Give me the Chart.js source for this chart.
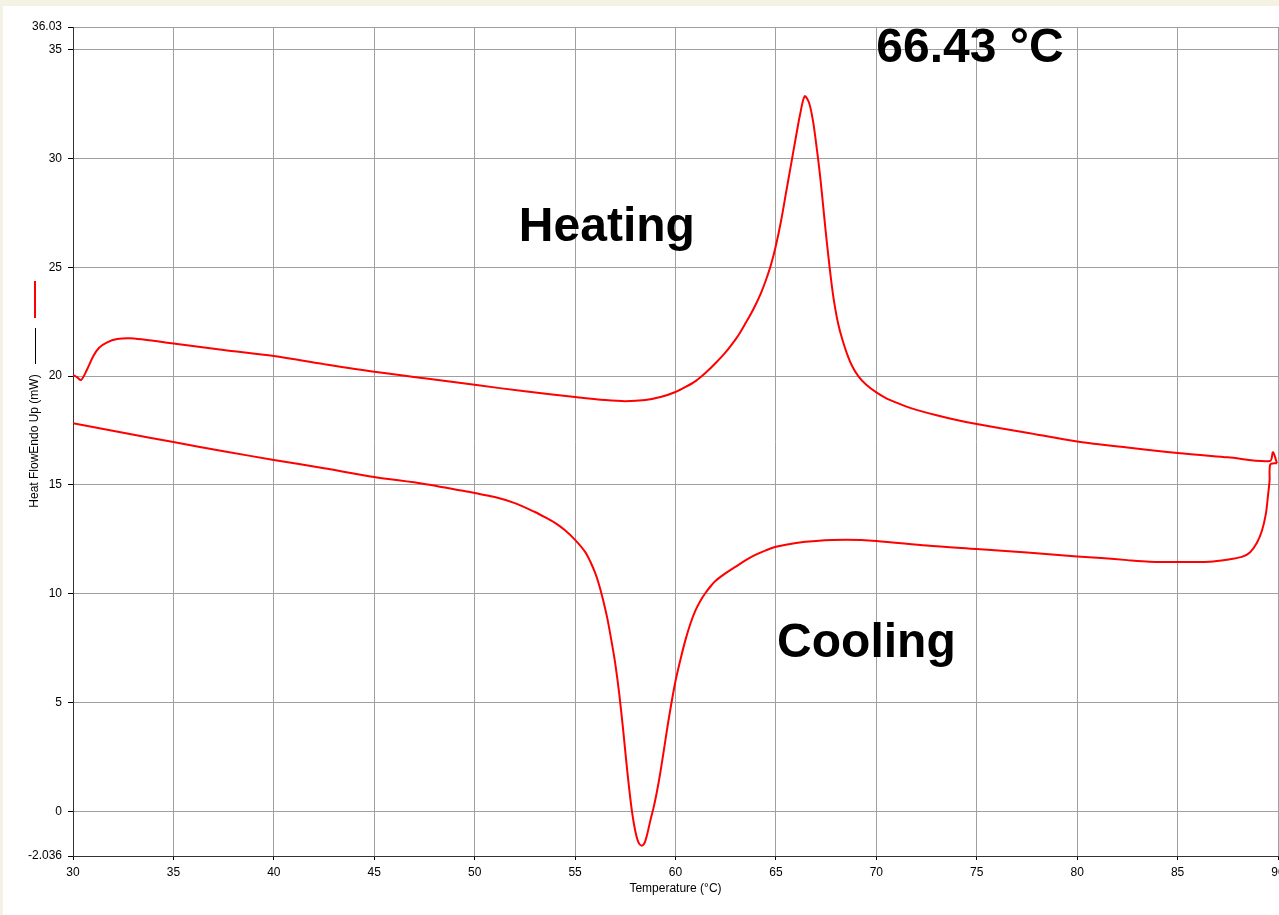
<!DOCTYPE html>
<html>
<head>
<meta charset="utf-8">
<script src="https://cdn.jsdelivr.net/npm/chart.js@4/dist/chart.umd.min.js"></script>
<style>
html,body{margin:0;padding:0;background:#F4F2E2;}
canvas{display:block;}
</style>
</head>
<body>
<canvas id="c" width="1279" height="915"></canvas>
<script>
// Heating scan (temperature °C, heat flow mW)
const heatT  = [30.0,30.2,30.4,30.7,31.0,31.3,31.7,32.2,32.8,33.5,35,37.5,40,42.5,45,47.5,50,52.5,55,56.5,57.5,58.5,59.3,60,60.5,61,61.5,62,62.5,63,63.25,63.5,63.75,64,64.25,64.5,64.75,65,65.25,65.5,65.75,66,66.2,66.43,66.65,66.85,67,67.15,67.3,67.45,67.6,67.75,67.9,68.1,68.3,68.55,68.8,69.1,69.5,70,70.5,71,71.5,72,73,74,75,77.5,80,82.5,85,87.5,89.6,89.75,89.95];
const heatHF = [20.05,19.95,19.82,20.3,20.9,21.3,21.55,21.7,21.74,21.68,21.5,21.2,20.92,20.55,20.2,19.9,19.6,19.3,19.04,18.9,18.85,18.9,19.05,19.27,19.5,19.77,20.15,20.6,21.1,21.7,22.05,22.45,22.85,23.3,23.8,24.4,25.1,26.0,27.1,28.4,29.7,31.0,32.0,32.85,32.55,31.7,30.7,29.6,28.3,26.9,25.6,24.4,23.4,22.4,21.7,21.0,20.45,20.0,19.6,19.25,18.98,18.78,18.6,18.45,18.2,17.98,17.8,17.4,17.0,16.72,16.47,16.27,16.1,16.5,16.0];
// Cooling scan
const coolT  = [89.95,89.62,89.58,89.5,89.4,89.2,88.95,88.6,88.2,87.45,86.6,85.1,83.6,82.5,81.2,80,77.5,75,72.5,70,68.5,67,66,65,64.5,64,63.5,63,62.5,62,61.75,61.5,61.25,61,60.75,60.5,60.25,60,59.8,59.6,59.4,59.2,59.05,58.9,58.75,58.6,58.45,58.3,58.15,58.0,57.85,57.7,57.55,57.4,57.2,57.0,56.8,56.6,56.4,56.2,56.0,55.75,55.5,55,54.5,54,53.5,53,52,51,50,47.5,45,42.5,40,37.5,35,32.5,30];
const coolHF = [16.0,15.95,15.2,14.5,13.7,12.9,12.35,11.9,11.7,11.57,11.48,11.46,11.48,11.55,11.65,11.72,11.9,12.06,12.22,12.43,12.48,12.43,12.34,12.16,12.0,11.8,11.55,11.25,10.95,10.6,10.35,10.05,9.7,9.25,8.65,7.9,7.0,6.0,5.0,3.9,2.7,1.55,0.8,0.15,-0.4,-1.0,-1.45,-1.56,-1.4,-0.9,-0.1,1.0,2.3,3.7,5.4,6.8,7.9,8.9,9.7,10.4,10.96,11.5,11.93,12.48,12.92,13.26,13.52,13.76,14.17,14.45,14.63,15.05,15.37,15.77,16.15,16.55,16.97,17.4,17.84];
// Axis ticks
const xTicks = [30,35,40,45,50,55,60,65,70,75,80,85,90];
const yTicks = [-2.036,0,5,10,15,20,25,30,35,36.03];
// Annotations
const notes = [
  {text:'66.43 °C', x:70.0, y:34.4},
  {text:'Heating',  x:52.2, y:26.2},
  {text:'Cooling',  x:65.06, y:7.1}
];

const FONT = '"Liberation Sans", Arial, sans-serif';
const pts = (xs, ys) => xs.map((x, i) => ({x: x, y: ys[i]}));

const bgPlugin = {
  id: 'bg',
  beforeDraw(chart) {
    const ctx = chart.ctx;
    ctx.save();
    ctx.fillStyle = '#F4F2E2';
    ctx.fillRect(0, 0, chart.width, chart.height);
    ctx.fillStyle = '#FFFFFF';
    ctx.fillRect(3, 6, chart.width - 3, chart.height - 6);
    ctx.restore();
  },
  afterDraw(chart) {
    const ctx = chart.ctx;
    const xs = chart.scales.x, ys = chart.scales.y;
    const ca = chart.chartArea;
    ctx.save();
    // legend marks
    ctx.strokeStyle = '#FF0000';
    ctx.lineWidth = 2;
    ctx.beginPath(); ctx.moveTo(35, 281); ctx.lineTo(35, 318); ctx.stroke();
    ctx.strokeStyle = '#000000';
    ctx.lineWidth = 1;
    ctx.beginPath(); ctx.moveTo(35.5, 328); ctx.lineTo(35.5, 364); ctx.stroke();
    // x-axis title
    ctx.fillStyle = '#000';
    ctx.font = '12px ' + FONT;
    ctx.textAlign = 'center';
    ctx.textBaseline = 'middle';
    ctx.fillText('Temperature (°C)', (ca.left + ca.right) / 2, 889);
    // y-axis title
    ctx.translate(35, 441);
    ctx.rotate(-Math.PI / 2);
    ctx.fillText('Heat FlowEndo Up (mW)', 0, 0);
    ctx.restore();
    // annotations
    ctx.save();
    ctx.fillStyle = '#000';
    ctx.font = 'bold 48px ' + FONT;
    ctx.textAlign = 'left';
    ctx.textBaseline = 'alphabetic';
    notes.forEach(n => {
      ctx.fillText(n.text, xs.getPixelForValue(n.x), ys.getPixelForValue(n.y));
    });
    ctx.restore();
  }
};

new Chart(document.getElementById('c'), {
  type: 'scatter',
  data: {
    datasets: [
      {label: 'Heating', data: pts(heatT, heatHF), showLine: true, borderColor: '#FF0000', borderWidth: 2, pointRadius: 0, tension: 0.3, fill: false},
      {label: 'Cooling', data: pts(coolT, coolHF), showLine: true, borderColor: '#FF0000', borderWidth: 2, pointRadius: 0, tension: 0.3, fill: false}
    ]
  },
  options: {
    responsive: false,
    animation: false,
    layout: {padding: {top: 27, right: 1, left: 0, bottom: 0}},
    plugins: {legend: {display: false}, tooltip: {enabled: false}},
    scales: {
      x: {
        type: 'linear', min: 30, max: 90,
        afterBuildTicks(s) { s.ticks = xTicks.map(v => ({value: v})); },
        afterFit(s) { s.height = 59; s.paddingLeft = 0; s.paddingRight = 0; },
        ticks: {color: '#000', font: {family: FONT, size: 12}, padding: 5, maxRotation: 0, autoSkip: false,
                callback: v => String(v)},
        grid: {color: '#A0A0A0', lineWidth: 1, tickLength: 4, tickColor: '#000'},
        border: {color: '#333', width: 1},
        title: {display: false}
      },
      y: {
        type: 'linear', min: -2.036, max: 36.03,
        afterBuildTicks(s) { s.ticks = yTicks.map(v => ({value: v})); },
        afterFit(s) { s.width = 73; s.paddingTop = 0; s.paddingBottom = 0; },
        ticks: {color: '#000', font: {family: FONT, size: 12}, padding: 6, autoSkip: false,
                callback: v => String(v)},
        grid: {color: '#A0A0A0', lineWidth: 1, tickLength: 5, tickColor: '#000'},
        border: {color: '#333', width: 1}
      }
    }
  },
  plugins: [bgPlugin]
});
</script>
</body>
</html>
